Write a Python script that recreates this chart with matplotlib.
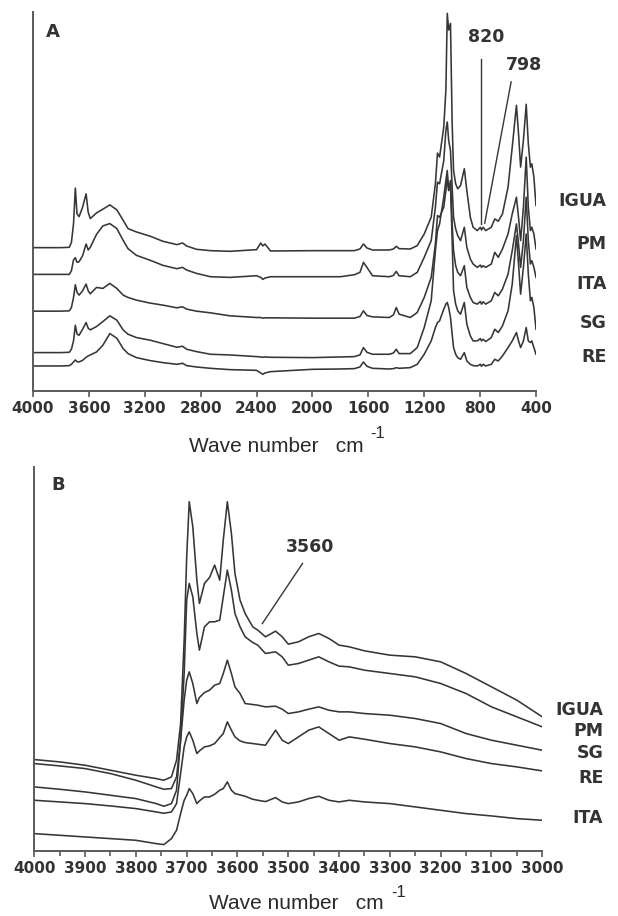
import matplotlib
matplotlib.use("Agg")
import matplotlib.pyplot as plt
from matplotlib.ticker import MultipleLocator
import matplotlib.transforms as mtransforms

plt.rcParams['font.family'] = 'DejaVu Sans'

# ---- panel A : full range spectra (arbitrary absorbance units) ----
wn_a = [4000, 3800, 3740, 3725, 3710, 3697, 3685, 3670, 3645, 3620,
        3605, 3590, 3545, 3500, 3450, 3400, 3355, 3320, 3260, 3160,
        3070, 2970, 2930, 2900, 2830, 2730, 2590, 2400, 2370, 2355,
        2340, 2300, 2000, 1800, 1700, 1660, 1635, 1610, 1570, 1450,
        1420, 1400, 1380, 1300, 1250, 1200, 1150, 1120, 1105, 1090,
        1060, 1045, 1035, 1025, 1012, 1000, 990, 975, 960, 940,
        913, 895, 870, 850, 820, 798, 790, 778, 760, 720,
        695, 670, 640, 600, 570, 540, 525, 510, 490, 470,
        455, 440, 430, 415, 400]

igua_a = [42.9, 42.9, 43.0, 44.5, 50.0, 60.7, 53.0, 52.2, 55.0, 59.0,
          53.5, 51.6, 53.3, 54.4, 55.7, 54.2, 51.1, 48.6, 47.6, 46.3,
          44.8, 43.8, 44.3, 43.4, 42.4, 42.0, 41.8, 42.3, 44.3, 43.4,
          44.0, 41.9, 42.0, 42.0, 42.0, 42.5, 44.0, 42.8, 42.2, 42.2,
          42.5, 43.3, 42.6, 42.5, 43.5, 47.0, 52.0, 62.0, 71.2, 70.0,
          79.0, 90.0, 113.0, 108.0, 110.0, 80.0, 66.0, 62.0, 60.5, 61.5,
          66.5, 60.0, 52.0, 49.0, 48.0, 49.0, 48.2, 49.0, 48.0, 49.0,
          51.5, 50.8, 53.0, 61.0, 73.0, 85.5, 77.0, 67.0, 75.0, 85.8,
          74.0, 67.0, 68.0, 64.0, 55.5]
pm_a = [34.9, 34.9, 34.9, 36.0, 39.2, 39.9, 38.5, 38.7, 40.5, 44.0,
        42.2, 43.0, 46.9, 49.4, 50.1, 48.6, 45.1, 42.6, 40.6, 39.1,
        37.6, 36.6, 37.0, 36.2, 35.2, 34.2, 34.0, 34.5, 34.0, 33.4,
        33.8, 34.2, 34.2, 34.2, 34.8, 35.5, 38.5, 37.0, 34.5, 34.2,
        34.6, 35.8, 34.5, 34.2, 35.5, 40.0, 45.0, 55.0, 62.5, 62.0,
        69.0, 78.0, 80.5, 75.0, 72.0, 61.0, 52.0, 48.5, 46.5, 45.0,
        49.0, 43.0, 39.5, 38.0, 37.0, 37.7, 37.0, 37.5, 37.0, 38.0,
        41.5, 40.0, 42.5, 47.0, 53.0, 58.0, 52.0, 45.0, 55.0, 70.0,
        55.0, 48.0, 49.0, 47.0, 42.5]
ita_a = [23.9, 23.9, 24.0, 25.0, 28.0, 31.8, 29.5, 28.7, 30.0, 32.0,
         30.0, 29.1, 31.0, 30.7, 32.2, 30.7, 28.7, 28.0, 27.2, 26.3,
         25.7, 24.9, 25.2, 24.5, 23.9, 23.4, 22.5, 22.0, 22.0, 21.8,
         21.9, 21.9, 21.8, 21.8, 21.8, 22.3, 24.0, 22.6, 22.2, 22.0,
         22.8, 25.0, 23.0, 22.0, 23.5, 28.0, 34.0, 44.0, 52.5, 52.0,
         55.0, 60.0, 64.0, 60.0, 63.0, 50.0, 42.0, 37.5, 35.5, 34.5,
         37.5, 31.0, 28.0, 26.5, 26.0, 26.8, 26.0, 26.7, 26.0, 27.0,
         29.5, 28.5, 30.5, 35.0, 42.0, 50.0, 44.0, 37.0, 45.0, 58.0,
         45.0, 38.0, 39.0, 37.0, 34.0]
sg_a = [11.5, 11.5, 11.6, 12.5, 15.0, 19.7, 17.0, 16.7, 18.5, 20.5,
        18.8, 18.3, 19.3, 20.8, 22.5, 21.2, 18.3, 17.0, 16.0, 15.2,
        14.2, 13.1, 13.4, 12.5, 11.8, 11.0, 10.8, 10.3, 10.2, 10.1,
        10.2, 10.1, 10.0, 10.2, 10.3, 10.8, 13.0, 11.6, 11.0, 11.0,
        11.4, 12.5, 11.2, 11.2, 13.0, 19.0, 27.0, 42.0, 48.0, 50.0,
        58.0, 63.0, 66.0, 60.0, 62.0, 45.0, 30.0, 26.0, 24.0, 23.0,
        26.5, 20.0, 16.5, 15.0, 15.0, 15.7, 15.0, 15.5, 14.8, 16.0,
        18.5, 17.5, 19.5, 24.0, 32.0, 46.5, 38.0, 29.0, 37.0, 47.0,
        35.0, 27.0, 28.0, 25.0, 18.5]
re_a = [7.5, 7.5, 7.6, 8.0, 8.7, 9.3, 8.8, 8.7, 9.2, 10.1,
        10.5, 10.8, 11.7, 13.7, 17.2, 15.8, 12.7, 11.2, 10.0, 9.1,
        8.5, 8.0, 8.3, 7.6, 7.2, 6.8, 6.4, 6.2, 5.4, 5.0,
        5.4, 5.8, 6.5, 6.6, 6.7, 7.2, 8.7, 7.4, 6.8, 6.6,
        6.7, 7.0, 6.8, 7.0, 8.0, 11.0, 15.0, 19.0, 20.5, 21.0,
        24.5, 26.0, 26.5, 25.0, 22.0, 17.0, 13.0, 11.0, 10.0, 9.5,
        11.5, 9.0, 8.0, 7.6, 7.5, 8.0, 7.4, 8.0, 7.5, 8.0,
        9.5, 9.0, 10.5, 13.0, 15.0, 17.5, 15.0, 13.0, 15.0, 19.0,
        15.0, 14.5, 15.0, 13.0, 11.0]

# ---- panel B : OH stretching region ----
wn_b = [4000, 3950, 3900, 3850, 3800, 3760, 3745, 3730, 3720, 3712,
        3705, 3700, 3695, 3688, 3680, 3675, 3665, 3655, 3645, 3635,
        3628, 3620, 3612, 3605, 3595, 3585, 3570, 3560, 3545, 3525,
        3512, 3500, 3480, 3460, 3440, 3420, 3400, 3380, 3350, 3300,
        3250, 3200, 3150, 3100, 3050, 3000]

igua_b = [27.4, 26.7, 25.7, 24.2, 22.7, 21.7, 21.2, 22.2, 27.2, 38.2,
          63.2, 88.2, 104.7, 97.2, 81.2, 74.2, 80.2, 82.0, 85.7, 81.2,
          93.2, 104.7, 95.2, 83.2, 75.2, 71.2, 67.2, 66.2, 64.2, 65.9,
          64.2, 62.0, 62.7, 64.2, 65.2, 63.7, 61.7, 61.2, 60.0, 58.7,
          58.2, 56.7, 53.2, 49.2, 45.2, 40.2]
pm_b = [26.2, 25.5, 24.7, 23.2, 21.2, 19.2, 18.5, 18.7, 22.2, 33.2,
        53.2, 75.2, 80.2, 76.2, 65.2, 60.2, 67.2, 68.7, 68.7, 69.2,
        76.2, 84.2, 78.2, 71.2, 67.2, 64.2, 62.5, 61.7, 59.2, 59.7,
        58.2, 55.7, 56.2, 57.2, 58.2, 56.7, 55.4, 55.2, 54.2, 53.2,
        52.2, 50.2, 47.2, 43.2, 40.2, 37.2]
sg_b = [19.2, 18.5, 17.7, 16.7, 15.7, 14.2, 13.4, 14.2, 18.2, 33.2,
        45.2, 51.2, 53.7, 50.2, 44.2, 46.0, 47.5, 48.2, 49.7, 50.2,
        53.2, 57.2, 53.2, 49.2, 47.2, 44.2, 43.9, 43.7, 43.2, 43.4,
        42.5, 41.2, 41.7, 42.5, 43.2, 42.2, 41.7, 41.7, 41.2, 40.7,
        39.7, 38.2, 35.2, 33.2, 31.7, 30.2]
re_b = [15.2, 14.7, 14.2, 13.5, 12.7, 11.7, 11.3, 11.7, 14.2, 23.2,
        31.2, 34.2, 35.7, 33.2, 29.2, 30.0, 31.2, 31.5, 32.2, 34.0,
        35.2, 38.7, 36.2, 34.2, 33.0, 32.5, 32.2, 32.0, 31.7, 36.2,
        33.2, 32.2, 34.2, 36.2, 37.2, 35.2, 33.2, 34.2, 33.5, 32.2,
        31.2, 29.7, 27.7, 26.2, 25.2, 24.0]
ita_b = [5.2, 4.7, 4.2, 3.7, 3.2, 2.2, 1.9, 3.7, 6.2, 11.2,
         15.2, 16.7, 18.7, 17.2, 14.2, 15.0, 16.2, 16.2, 17.0, 18.2,
         18.7, 20.7, 18.2, 17.2, 16.8, 16.4, 15.5, 15.2, 14.8, 16.0,
         14.7, 14.2, 14.7, 15.7, 16.4, 15.2, 14.7, 15.2, 14.7, 14.2,
         13.2, 12.2, 11.2, 10.5, 9.7, 9.2]

names_a = ['IGUA', 'PM', 'ITA', 'SG', 'RE']
label_y_a = [57, 44, 32, 20.5, 10.2]
names_b = ['IGUA', 'PM', 'SG', 'RE', 'ITA']
label_y_b = [42.2, 36, 29.4, 22, 10]

line_col = '#363636'
text_col = '#333333'
spine_col = '#5a5a5a'

fig = plt.figure(figsize=(6.18, 9.16), dpi=100)
ax_a = fig.add_axes([0.0534, 0.5731, 0.8139, 0.4138])
ax_b = fig.add_axes([0.0555, 0.0710, 0.8220, 0.4195])


def style_axis(ax):
    for s in ['top', 'right']:
        ax.spines[s].set_visible(False)
    for s in ['left', 'bottom']:
        ax.spines[s].set_color(spine_col)
        ax.spines[s].set_linewidth(1.4)
    ax.set_yticks([])
    ax.tick_params(axis='x', which='major', direction='out', length=4.5,
                   width=1.2, color=spine_col, pad=3, labelsize=11,
                   labelcolor=text_col)
    ax.tick_params(axis='x', which='minor', direction='out', length=3.5,
                   width=1.2, color=spine_col)
    for lab in ax.get_xticklabels():
        lab.set_fontweight('bold')


def wave_label(ax, x_main, y_main, x_sup, y_sup):
    ax.set_xlabel('Wave number   cm', family='Liberation Sans',
                  fontsize=15, color='#2a2a2a')
    ax.xaxis.label.set_verticalalignment('center')
    ax.xaxis.set_label_coords(x_main, y_main)
    ax.text(x_sup, y_sup, '-1', transform=ax.transAxes, ha='center',
            va='center', family='Liberation Sans', fontsize=12,
            color='#2a2a2a', clip_on=False)


# panel A
for ys in [igua_a, pm_a, ita_a, sg_a, re_a]:
    ax_a.plot(wn_a, ys, color=line_col, lw=1.15)
ax_a.set_xlim(4000, 400)
ax_a.set_ylim(0, 113.4)
ax_a.set_xticks(range(4000, 399, -400))
style_axis(ax_a)

tr_a = mtransforms.blended_transform_factory(ax_a.transAxes, ax_a.transData)
for name, y in zip(names_a, label_y_a):
    ax_a.text(1.14, y, name, transform=tr_a, ha='right', va='center',
              fontsize=12.5, fontweight='bold', color=text_col, clip_on=False)

ax_a.plot([795, 795], [50, 99.2], color=line_col, lw=1.0)
ax_a.text(760, 105.8, '820', ha='center', va='center', fontsize=12.5,
          fontweight='bold', color=text_col)
ax_a.plot([578, 767], [92.5, 50.2], color=line_col, lw=1.0)
ax_a.text(485, 97.5, '798', ha='center', va='center', fontsize=12.5,
          fontweight='bold', color=text_col, clip_on=False)
ax_a.text(0.04, 0.947, 'A', transform=ax_a.transAxes, ha='center',
          va='center', fontsize=13, fontweight='bold', color=text_col)
wave_label(ax_a, 0.483, -0.145, 0.686, -0.113)

# panel B
for ys in [igua_b, pm_b, sg_b, re_b, ita_b]:
    ax_b.plot(wn_b, ys, color=line_col, lw=1.15)
ax_b.set_xlim(4000, 3000)
ax_b.set_ylim(0, 115.2)
ax_b.xaxis.set_major_locator(MultipleLocator(100))
ax_b.xaxis.set_minor_locator(MultipleLocator(50))
style_axis(ax_b)

tr_b = mtransforms.blended_transform_factory(ax_b.transAxes, ax_b.transData)
for name, y in zip(names_b, label_y_b):
    ax_b.text(1.12, y, name, transform=tr_b, ha='right', va='center',
              fontsize=12.5, fontweight='bold', color=text_col, clip_on=False)

ax_b.plot([3472, 3551], [86.2, 68.2], color=line_col, lw=1.0)
ax_b.text(3457, 91.2, '3560', ha='center', va='center', fontsize=12.5,
          fontweight='bold', color=text_col)
ax_b.text(0.047, 0.952, 'B', transform=ax_b.transAxes, ha='center',
          va='center', fontsize=13, fontweight='bold', color=text_col)
wave_label(ax_b, 0.515, -0.137, 0.718, -0.107)

fig.savefig('out.png', dpi=100)
